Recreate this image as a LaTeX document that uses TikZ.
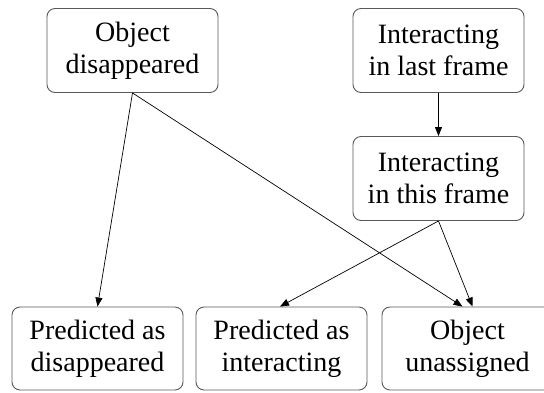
\documentclass[tikz,border=0pt]{standalone}
\usepackage{fontspec}
\setmainfont{Liberation Serif}
\usetikzlibrary{arrows.meta,calc}

\tikzset{
  statebox/.style={draw=black!65, line width=0.9pt, rounded corners=8pt,
    minimum width=171pt, minimum height=84pt, align=center, inner sep=0pt,
    font=\fontsize{28pt}{32pt}\selectfont},
  flow/.style={draw=black, line width=0.7pt,
    -{Triangle[length=9pt,width=7pt]}}
}

\begin{document}
\begin{tikzpicture}[x=1pt, y=-1pt]
  \useasboundingbox (0,0) rectangle (544,392);
  \begin{scope}
    \clip (0,0) rectangle (544,392);

    % source states
    \node[statebox] (od)  at (132.5, 50.5)  {Object\\disappeared};
    \node[statebox] (ilf) at (438.5, 50.5)  {Interacting\\in last frame};
    \node[statebox] (itf) at (438.5, 178.5) {Interacting\\in this frame};

    % outcomes
    \node[statebox, minimum height=83pt] (pd) at (97.5, 348.5)  {Predicted as\\disappeared};
    \node[statebox, minimum height=83pt] (pi) at (281.5, 348.5) {Predicted as\\interacting};
    \node[statebox, minimum height=83pt] (ou) at (467.5, 348.5) {Object\\unassigned};

    % ports on the top of the unassigned box
    \coordinate (ouL) at ($(ou.north)+(-5,0)$);
    \coordinate (ouR) at ($(ou.north)+(5,0)$);

    \draw[flow] (od.south)  -- (pd.north);
    \draw[flow] (od.south)  -- (ouL);
    \draw[flow] (ilf.south) -- (itf.north);
    \draw[flow] (itf.south) -- ($(pi.north)+(-1.5,0)$);
    \draw[flow] (itf.south) -- (ouR);
  \end{scope}
\end{tikzpicture}
\end{document}
